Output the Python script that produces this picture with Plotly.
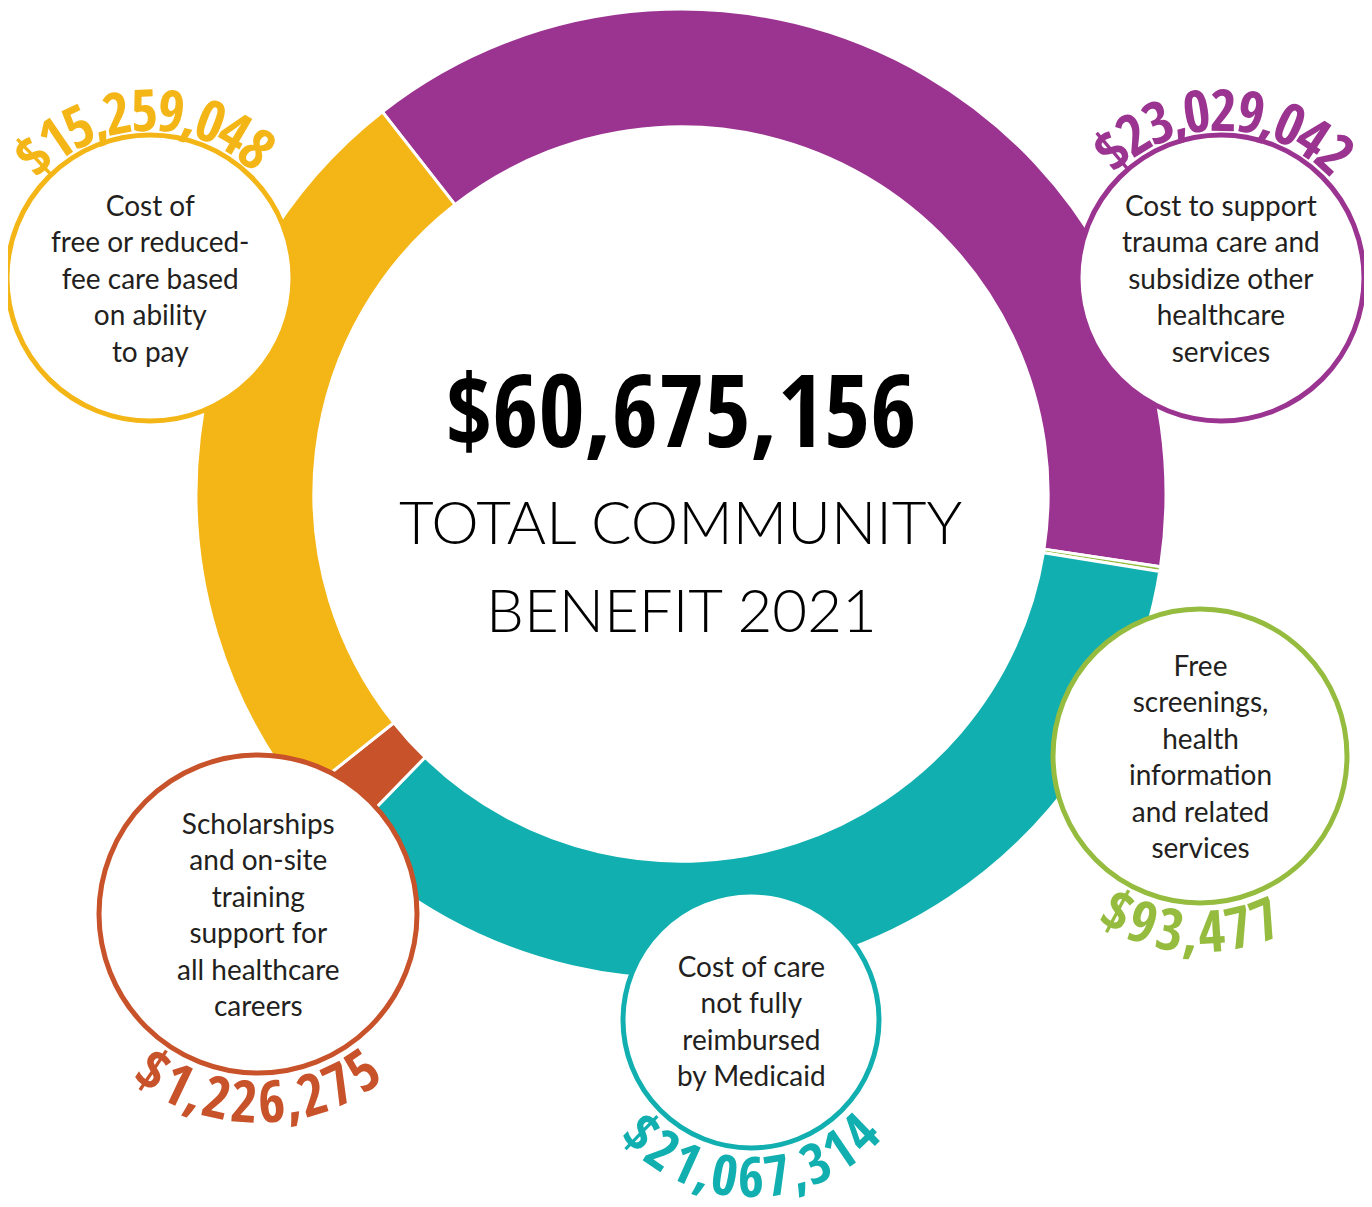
import math
import plotly.graph_objects as go

# data
categories = [
    "Trauma care and other healthcare services",
    "Free screenings and health information",
    "Care not fully reimbursed by Medicaid",
    "Scholarships and on-site training",
    "Free or reduced-fee care",
]
amounts = [23029042, 93477, 21067314, 1226275, 15259048]
descriptions = [
    "Cost to support<br>trauma care and<br>subsidize other<br>healthcare<br>services",
    "Free<br>screenings,<br>health<br>information<br>and related<br>services",
    "Cost of care<br>not fully<br>reimbursed<br>by Medicaid",
    "Scholarships<br>and on-site<br>training<br>support for<br>all healthcare<br>careers",
    "Cost of<br>free or reduced-<br>fee care based<br>on ability<br>to pay",
]
colors = ["#9b3390", "#95bc3f", "#11afaf", "#c8522a", "#f4b616"]
title_lines = ["TOTAL COMMUNITY", "BENEFIT 2021"]

# page is drawn 8px in from the top-left corner (body margin)
OFF = 8
W, H = 1372 - OFF, 1207 - OFF
CX, CY, R = 681, 494, 485

# bubble layout: centre x, centre y, radius, label side, label mid-angle, label size
bubbles = [
    (1221, 278, 143, "top", 1, 58),
    (1200, 756, 147, "bottom", 183, 58),
    (751, 1020, 128, "bottom", 180, 56),
    (258, 914, 159, "bottom", 180, 58),
    (150, 278, 143, "top", -2, 58),
]

LABEL_FONT = "Open Sans Condensed, Roboto Condensed, sans-serif"
TEXT_FONT = "Lato, Open Sans, sans-serif"


def arc_text(text, cx, cy, r, mid, size, color, side):
    """one annotation per character, placed along a circle"""
    widths = [size * (0.23 if ch == "," else 0.475) for ch in text]
    total = sum(widths)
    out = []
    s = -total / 2
    for ch, w in zip(text, widths):
        d = math.degrees((s + w / 2) / r)
        if side == "top":
            a = mid + d
            rot = a
        else:
            a = mid - d
            rot = a - 180
        x = cx + r * math.sin(math.radians(a))
        y = cy - r * math.cos(math.radians(a))
        out.append(dict(
            x=x, y=y, xref="x", yref="y", text=ch, showarrow=False,
            textangle=rot, xanchor="center", yanchor="middle",
            font=dict(family=LABEL_FONT, size=size, color=color, weight="bold"),
        ))
        s += w
    return out


fig = go.Figure()
fig.add_trace(go.Pie(
    labels=categories,
    values=amounts,
    sort=False,
    direction="clockwise",
    rotation=-38,
    hole=0.757,
    marker=dict(colors=colors, line=dict(color="white", width=3)),
    textinfo="none",
    hoverinfo="label+value",
    showlegend=False,
    domain=dict(
        x=[(CX - R - OFF) / W, (CX + R - OFF) / W],
        y=[1 - (CY + R - OFF) / H, 1 - (CY - R - OFF) / H],
    ),
))

shapes = []
annotations = []
for (bx, by, br, side, mid, fs), col, desc, val in zip(bubbles, colors, descriptions, amounts):
    shapes.append(dict(
        type="circle", xref="x", yref="y", layer="above",
        x0=bx - br, x1=bx + br, y0=by - br, y1=by + br,
        fillcolor="white", line=dict(color=col, width=5),
    ))
    annotations.append(dict(
        x=bx, y=by, xref="x", yref="y", text=desc, showarrow=False,
        xanchor="center", yanchor="middle",
        font=dict(family=TEXT_FONT, size=28, color="#231f20"),
    ))
    annotations += arc_text(f"${val:,}", bx, by, br + 27, mid, fs, col, side)

annotations.append(dict(
    x=CX, y=408, xref="x", yref="y", text=f"${sum(amounts):,}", showarrow=False,
    xanchor="center", yanchor="middle",
    font=dict(family=LABEL_FONT, size=100, color="#000000", weight="bold"),
))
for yy, line in zip([521, 609], title_lines):
    annotations.append(dict(
        x=CX, y=yy, xref="x", yref="y", text=line, showarrow=False,
        xanchor="center", yanchor="middle",
        font=dict(family="Lato", size=60, color="#000000", weight=300),
    ))

fig.update_layout(
    width=W, height=H, autosize=False,
    margin=dict(l=0, r=0, t=0, b=0),
    paper_bgcolor="white", plot_bgcolor="rgba(0,0,0,0)",
    xaxis=dict(range=[OFF, W + OFF], visible=False, fixedrange=True),
    yaxis=dict(range=[H + OFF, OFF], visible=False, fixedrange=True),
    shapes=shapes,
    annotations=annotations,
)

fig.write_html("out.html")
